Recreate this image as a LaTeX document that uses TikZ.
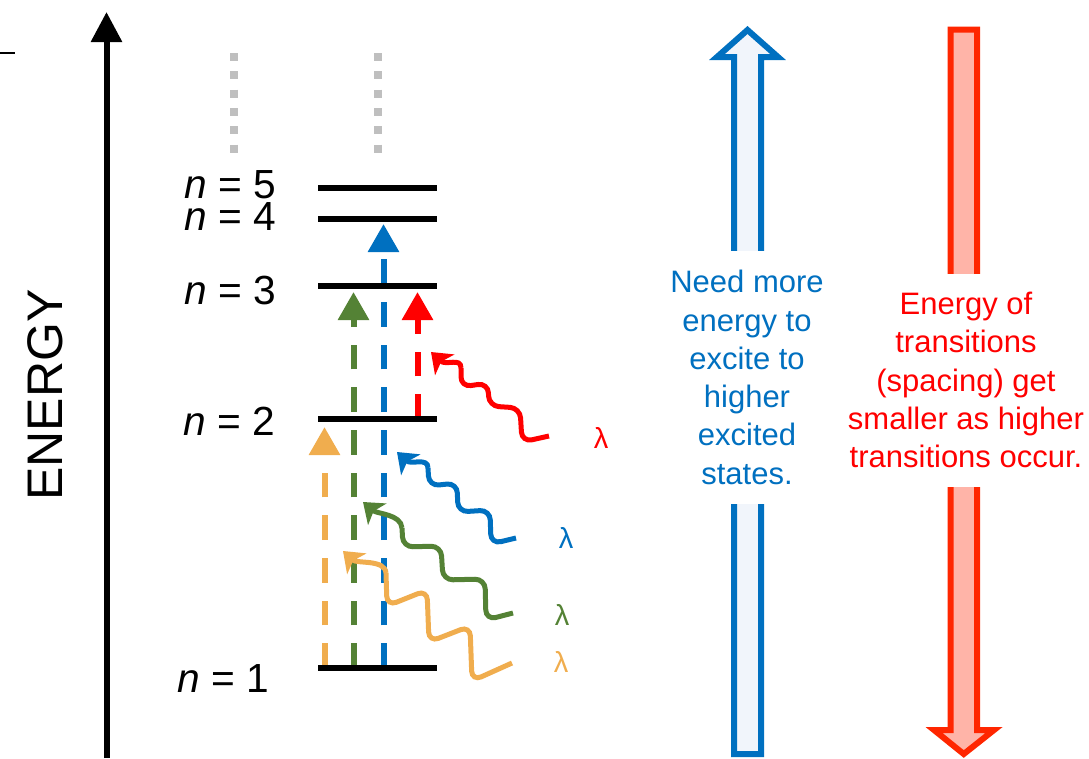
\documentclass[tikz,border=0pt]{standalone}
\usepackage{fontspec}
\setmainfont{Liberation Sans}
\usetikzlibrary{arrows.meta}
\definecolor{lvlblue}{HTML}{0070C0}
\definecolor{lvlgreen}{HTML}{548235}
\definecolor{lvlorange}{HTML}{F0AD4E}
\definecolor{lvlred}{HTML}{FF0000}
\definecolor{dotgray}{HTML}{BFBFBF}
\definecolor{upfill}{HTML}{F1F5FB}
\definecolor{downline}{HTML}{FF2600}
\definecolor{downfill}{HTML}{FFB4A8}

\begin{document}
\begin{tikzpicture}[x=0.75pt,y=-0.75pt,
  level/.style={line width=4.5pt, black},
  jump/.style={line width=4.5pt, dash pattern=on 18.4pt off 13.6pt,
    -{Triangle[length=21pt,width=22.5pt]}},
  wave/.style={line width=3.75pt, rounded corners=7.5pt},
  wavehead/.style={line width=3.75pt,
    -{Stealth[length=14pt,width=21pt,inset=3.5pt]}},
  continuum/.style={line width=6.5pt, dotgray, dash pattern=on 6pt off 7.75pt},
  nlabel/.style={inner sep=0pt, anchor=east, font=\fontsize{30.5}{36}\selectfont},
  lam/.style={inner sep=0pt, font=\fontsize{21.75}{26}\selectfont},
  note/.style={fill=white, align=center, inner xsep=2pt,
    font=\fontsize{23.25}{28.7}\selectfont},
  bigarrow/.style={line width=4.5pt, miter limit=10}
]
\useasboundingbox (0,0) rectangle (1089,758);

% stray tick at the top left
\coordinate (tickA) at (0,53);
\coordinate (tickB) at (15,53);
\draw[line width=1.5pt] (tickA) -- (tickB);

% energy axis
\coordinate (axisBot) at (106.5,758);
\coordinate (axisTop) at (106.5,12);
\draw[line width=4.5pt, -{Triangle[length=22.5pt,width=22.5pt]}] (axisBot) -- (axisTop);
\node[rotate=90, inner sep=0pt, font=\fontsize{37.5}{45}\selectfont] (energy) at (45,395) {ENERGY};

% continuum above the bound levels
\coordinate (dotsAtop) at (234,53);
\coordinate (dotsAbot) at (234,154);
\coordinate (dotsBtop) at (378,53);
\coordinate (dotsBbot) at (378,154);
\draw[continuum] (dotsAtop) -- (dotsAbot);
\draw[continuum] (dotsBtop) -- (dotsBbot);

% excitations (dashed, upward)
\coordinate (oBot) at (324.5,668);
\coordinate (oTop) at (324.5,427);
\coordinate (gBot) at (353.5,668);
\coordinate (gTop) at (353.5,292);
\coordinate (bBot) at (383.5,668);
\coordinate (bTop) at (383.5,224);
\coordinate (rBot) at (417.5,419);
\coordinate (rTop) at (417.5,292);
\draw[jump, lvlorange] (oBot) -- (oTop);
\draw[jump, lvlgreen] (gBot) -- (gTop);
\draw[jump, lvlblue] (bBot) -- (bTop);
\draw[jump, lvlred] (rBot) -- (rTop);

% energy levels
\coordinate (l1w) at (318,668); \coordinate (l1e) at (437,668);
\coordinate (l2w) at (318,419); \coordinate (l2e) at (437,419);
\coordinate (l3w) at (318,286); \coordinate (l3e) at (437,286);
\coordinate (l4w) at (318,219); \coordinate (l4e) at (437,219);
\coordinate (l5w) at (318,188); \coordinate (l5e) at (437,188);
\draw[level] (l1w) -- (l1e);
\draw[level] (l2w) -- (l2e);
\draw[level] (l3w) -- (l3e);
\draw[level] (l4w) -- (l4e);
\draw[level] (l5w) -- (l5e);

\node[nlabel] (n5) at (276,185) {\textit{n} = 5};
\node[nlabel] (n4) at (276,216.5) {\textit{n} = 4};
\node[nlabel] (n3) at (276,290) {\textit{n} = 3};
\node[nlabel] (n2) at (275,421) {\textit{n} = 2};
\node[nlabel] (n1) at (269,678) {\textit{n} = 1};

% incoming photons: wavy body, then the last bend with its head
\coordinate (rTail) at (549,436);  \coordinate (rBend) at (461,368);  \coordinate (rTip) at (431,352);
\coordinate (bTail) at (516,538);  \coordinate (bBend) at (428,468);  \coordinate (bTip) at (397,452);
\coordinate (gTail) at (513,613);  \coordinate (gBend) at (402,528);  \coordinate (gTip) at (363,502);
\coordinate (oTail) at (512,663);  \coordinate (oBend) at (386,573);  \coordinate (oTip) at (343,551);

\draw[wave, lvlred] (rTail) -- (522,442) -- (520,408) -- (489,406)
  -- (488,383) -- (461,387) -- (rBend);
\draw[wavehead, lvlred] (rBend) .. controls (461,357) and (446,366) .. (rTip);

\draw[wave, lvlblue] (bTail) -- (491,544) -- (490,510) -- (458,512)
  -- (457,483) -- (429,486) -- (bBend);
\draw[wavehead, lvlblue] (bBend) .. controls (428,457) and (411,465) .. (bTip);

\draw[wave, lvlgreen] (gTail) -- (486,620) -- (485,579) -- (443,580)
  -- (441,546) -- (403,547) -- (gBend);
\draw[wavehead, lvlgreen] (gBend) .. controls (401,514) and (377,514) .. (gTip);

\draw[wave, lvlorange] (oTail) -- (472,681) -- (470,626) -- (429,642)
  -- (427,590) -- (387,606) -- (oBend);
\draw[wavehead, lvlorange] (oBend) .. controls (385,559) and (357,564) .. (oTip);

\node[lam, text=lvlred] (lamR) at (601,438) {λ};
\node[lam, text=lvlblue] (lamB) at (566,538) {λ};
\node[lam, text=lvlgreen] (lamG) at (562,615) {λ};
\node[lam, text=lvlorange] (lamO) at (561,662) {λ};

% block arrows with their captions
\draw[bigarrow, draw=lvlblue, fill=upfill]
  (734,754) -- (734,57) -- (717,57) -- (747.5,30) -- (778,57)
  -- (761,57) -- (761,754) -- cycle;
\draw[bigarrow, draw=downline, fill=downfill]
  (950.5,29.7) -- (977,29.7) -- (977,730) -- (994,730) -- (963.75,754)
  -- (934,730) -- (950.5,730) -- cycle;

\node[note, text=lvlblue, minimum height=189.75pt] (upnote) at (747,377.5)
  {Need more\\energy to\\excite to\\higher\\excited\\states.};
\node[note, text=lvlred, minimum height=159.75pt] (downnote) at (966,380)
  {Energy of\\transitions\\(spacing) get\\smaller as higher\\transitions occur.};
\end{tikzpicture}
\end{document}
